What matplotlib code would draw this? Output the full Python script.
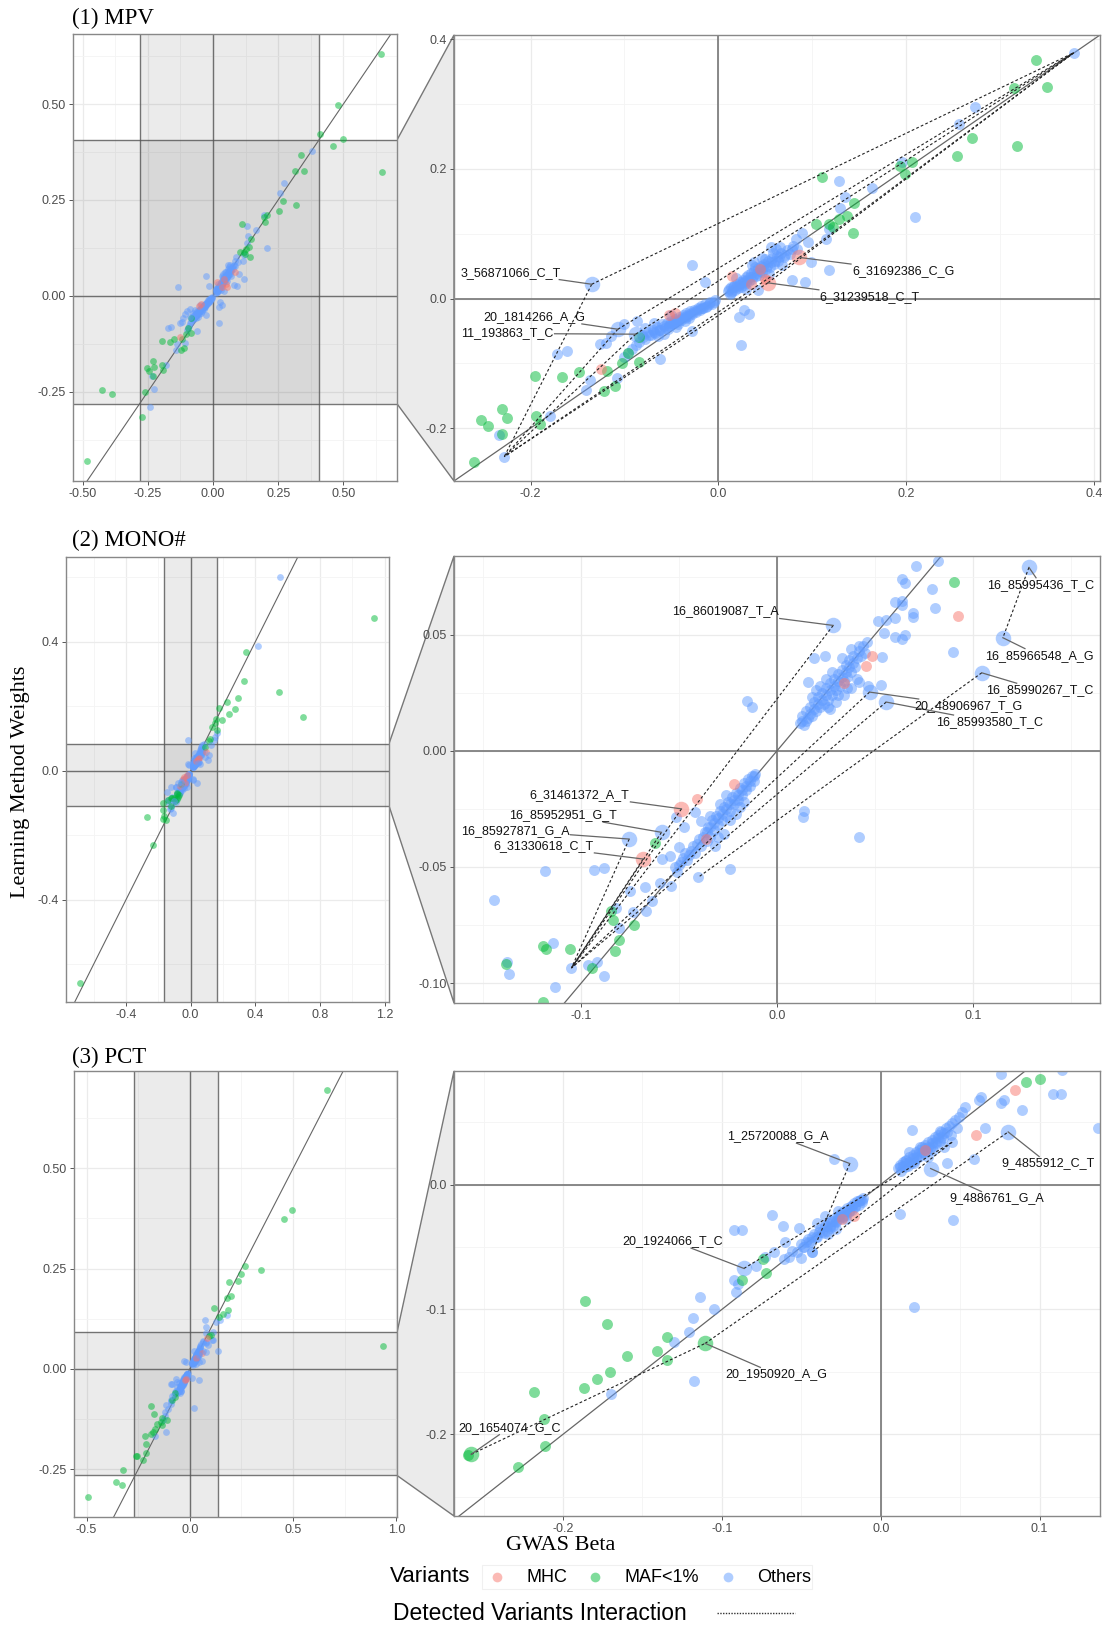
import matplotlib
matplotlib.use("Agg")
import numpy as np
import matplotlib.pyplot as plt
from matplotlib.lines import Line2D
from matplotlib.patches import Polygon, Rectangle

plt.rcParams["font.family"] = ["Liberation Sans", "DejaVu Sans"]
SERIF = ["Liberation Serif", "DejaVu Serif"]

W, H = 1106, 1627

colors = {"MHC": "#F8766D", "MAF<1%": "#00BA38", "Others": "#619CFF"}
groups = ["MHC", "MAF<1%", "Others"]

# ---------------- (1) MPV ----------------
mpv_others = [
    (0.273, 0.295), (0.256, 0.269), (0.196, 0.210), (0.164, 0.171), (0.129, 0.181),
    (0.135, 0.156), (0.130, 0.139), (0.209, 0.126), (0.118, 0.107), (0.115, 0.092),
    (0.089, 0.101), (0.083, 0.092), (0.095, 0.087), (0.056, 0.080), (0.066, 0.080),
    (0.038, 0.057), (0.099, 0.056), (0.118, 0.044), (0.079, 0.028), (0.092, 0.026),
    (0.042, 0.013), (-0.028, 0.051), (-0.014, 0.026), (0.027, -0.017), (0.033, -0.024),
    (0.022, -0.029), (0.024, -0.072), (-0.028, -0.050), (-0.087, -0.035), (-0.100, -0.039),
    (-0.078, -0.046), (-0.114, -0.058), (-0.126, -0.070), (-0.120, -0.068), (-0.172, -0.085),
    (-0.161, -0.081), (-0.179, -0.181), (-0.234, -0.210), (-0.062, -0.093), (-0.141, -0.141),
    (-0.137, -0.125), (-0.108, -0.122), (-0.241, -0.291),
    (0.010, 0.012), (0.012, 0.007), (0.013, 0.017), (0.015, 0.011), (0.017, 0.020),
    (0.018, 0.013), (0.020, 0.023), (0.021, 0.016), (0.023, 0.026), (0.024, 0.018),
    (0.026, 0.029), (0.027, 0.021), (0.029, 0.033), (0.030, 0.024), (0.032, 0.036),
    (0.033, 0.027), (0.035, 0.040), (0.036, 0.030), (0.038, 0.043), (0.040, 0.034),
    (0.042, 0.047), (0.043, 0.037), (0.045, 0.050), (0.047, 0.041), (0.049, 0.054),
    (0.051, 0.045), (0.053, 0.058), (0.055, 0.049), (0.057, 0.062), (0.059, 0.053),
    (0.062, 0.066), (0.064, 0.058), (0.067, 0.070), (0.070, 0.064), (0.073, 0.075),
    (0.076, 0.069), (0.080, 0.081), (0.084, 0.077), (0.047, 0.063), (0.036, 0.051),
    (0.061, 0.076), (0.019, 0.031), (0.068, 0.052), (0.029, 0.015), (0.054, 0.038),
    (0.011, 0.015), (0.014, 0.009), (0.016, 0.018), (0.019, 0.017), (0.022, 0.021),
    (0.025, 0.024), (0.028, 0.027), (0.031, 0.029), (0.034, 0.033), (0.037, 0.035),
    (0.041, 0.040), (0.044, 0.043), (0.048, 0.048), (0.052, 0.050), (0.056, 0.056),
    (0.060, 0.058), (0.065, 0.064), (0.071, 0.067), (0.078, 0.077), (0.039, 0.048),
    (0.058, 0.070), (0.050, 0.061),
    (-0.004, -0.003), (-0.007, -0.008), (-0.009, -0.005), (-0.012, -0.011), (-0.014, -0.009),
    (-0.016, -0.015), (-0.018, -0.012), (-0.020, -0.018), (-0.022, -0.015), (-0.024, -0.021),
    (-0.026, -0.018), (-0.028, -0.024), (-0.030, -0.020), (-0.032, -0.027), (-0.034, -0.023),
    (-0.036, -0.030), (-0.038, -0.026), (-0.040, -0.033), (-0.042, -0.029), (-0.044, -0.036),
    (-0.046, -0.031), (-0.048, -0.039), (-0.050, -0.034), (-0.052, -0.042), (-0.055, -0.037),
    (-0.057, -0.045), (-0.060, -0.040), (-0.062, -0.049), (-0.065, -0.044), (-0.067, -0.053),
    (-0.070, -0.048), (-0.072, -0.057), (-0.075, -0.052), (-0.078, -0.062), (-0.081, -0.057),
    (-0.084, -0.067), (-0.088, -0.072), (-0.092, -0.078), (-0.096, -0.084), (-0.100, -0.090),
    (-0.058, -0.055), (-0.045, -0.044), (-0.035, -0.035), (-0.068, -0.038), (-0.050, -0.025),
    (-0.005, -0.006), (-0.010, -0.008), (-0.013, -0.013), (-0.017, -0.014), (-0.021, -0.016),
    (-0.025, -0.020), (-0.029, -0.023), (-0.033, -0.025), (-0.037, -0.029), (-0.041, -0.031),
    (-0.045, -0.035), (-0.049, -0.037), (-0.053, -0.041), (-0.058, -0.043), (-0.063, -0.048),
    (-0.069, -0.051), (-0.074, -0.057), (-0.080, -0.060), (-0.054, -0.047), (-0.043, -0.039),
    (-0.031, -0.030), (-0.064, -0.058),
]
mpv_maf = [
    (0.338, 0.368), (0.315, 0.325), (0.350, 0.326), (0.270, 0.247), (0.318, 0.236),
    (0.254, 0.220), (0.194, 0.205), (0.206, 0.211), (0.199, 0.192), (0.110, 0.187),
    (0.145, 0.148), (0.137, 0.128), (0.128, 0.122), (0.118, 0.115), (0.104, 0.115),
    (0.143, 0.101), (0.122, 0.110), (-0.085, -0.059), (-0.096, -0.084), (-0.103, -0.100),
    (-0.085, -0.098), (-0.119, -0.112), (-0.148, -0.113), (-0.166, -0.121), (-0.195, -0.119),
    (-0.122, -0.142), (-0.110, -0.135), (-0.230, -0.171), (-0.253, -0.187), (-0.225, -0.185),
    (-0.245, -0.196), (-0.194, -0.181), (-0.190, -0.194), (-0.230, -0.209), (-0.260, -0.252),
    (0.645, 0.630), (0.478, 0.497), (0.410, 0.422), (0.500, 0.409), (0.459, 0.392),
    (0.649, 0.323), (-0.427, -0.246), (-0.386, -0.257), (-0.483, -0.431), (-0.272, -0.317),
]
mpv_mhc = [
    (0.015, 0.035), (0.044, 0.045), (-0.052, -0.026), (-0.046, -0.022), (-0.125, -0.108),
    (0.035, 0.022), (0.050, 0.030),
]
mpv_det_names = ["3_56871066_C_T", "6_31692386_C_G", "6_31239518_C_T",
                 "20_1814266_A_G", "11_193863_T_C", "", ""]
mpv_det_beta = [-0.1348, 0.0863, 0.0528, -0.107, -0.088, 0.3784, -0.228]
mpv_det_weight = [0.022, 0.0634, 0.0242, -0.0474, -0.055, 0.379, -0.244]
mpv_det_group = ["Others", "MHC", "MHC", "Others", "Others", "Others", "Others"]
mpv_links = [(0, 5), (0, 6), (1, 5), (1, 6), (2, 5), (2, 6), (3, 5), (3, 6), (4, 5), (4, 6)]
mpv_label_pos = [(-0.168, 0.040, "right"), (0.1424, 0.0428, "left"), (0.108, 0.0026, "left"),
                 (-0.1415, -0.0284, "right"), (-0.1755, -0.054, "right")]

# ---------------- (2) MONO# ----------------
mono_others = [
    (0.071, 0.0794), (0.082, 0.0816), (0.0641, 0.0739), (0.0653, 0.0722), (0.0793, 0.0696),
    (0.0605, 0.0643), (0.0641, 0.0646), (0.0637, 0.0628), (0.0694, 0.0595), (0.0694, 0.0578),
    (0.0805, 0.0614), (0.0515, 0.0559), (0.0556, 0.0563), (0.0602, 0.0571), (0.0545, 0.0509),
    (0.0602, 0.0491), (0.0655, 0.0499), (0.0637, 0.048), (0.0897, 0.0427), (0.0538, 0.0405),
    (0.0418, 0.0451), (0.0379, 0.0437), (0.0246, 0.0408), (0.0189, 0.0398), (0.0159, 0.0297),
    (-0.0152, 0.0213), (-0.0126, 0.0189), (0.0418, 0.0297), (0.0464, 0.028), (0.0529, 0.0282),
    (0.0131, -0.0287), (0.0136, -0.0261), (0.0418, -0.0373), (-0.1186, -0.0517), (-0.0933, -0.0513),
    (-0.0885, -0.0503), (-0.1448, -0.0643), (-0.137, -0.096), (-0.1145, -0.0827), (-0.1133, -0.1019),
    (-0.0885, -0.0971), (-0.0922, -0.0909), (-0.0966, -0.0921), (-0.0823, -0.0676), (-0.0738, -0.0695),
    (-0.0667, -0.069), (-0.075, -0.0604), (-0.0674, -0.0585), (-0.0807, -0.0762), (-0.0639, -0.0647),
    (-0.06, -0.0571), (-0.054, -0.0582), (-0.0241, -0.0507), (-0.0547, -0.0452),
    (-0.0501, -0.0416), (-0.0586, -0.0467), (-0.0474, -0.033), (-0.0517, -0.0287), (-0.0421, -0.0265),
    (-0.0386, -0.0301), (-0.0317, -0.0409), (-0.0271, -0.0359),
    (0.012, 0.012), (0.013, 0.015), (0.014, 0.011), (0.015, 0.017), (0.016, 0.014),
    (0.017, 0.019), (0.018, 0.015), (0.019, 0.021), (0.020, 0.017), (0.021, 0.023),
    (0.022, 0.019), (0.023, 0.025), (0.024, 0.020), (0.025, 0.027), (0.026, 0.022),
    (0.027, 0.029), (0.028, 0.024), (0.029, 0.031), (0.030, 0.026), (0.031, 0.033),
    (0.032, 0.028), (0.033, 0.035), (0.034, 0.030), (0.035, 0.037), (0.036, 0.032),
    (0.037, 0.039), (0.038, 0.034), (0.039, 0.041), (0.040, 0.036), (0.042, 0.043),
    (0.044, 0.045), (0.046, 0.047), (0.022, 0.028), (0.027, 0.018), (0.031, 0.024),
    (0.036, 0.027), (0.018, 0.023), (0.041, 0.031), (0.025, 0.031), (0.033, 0.040),
    (0.013, 0.013), (0.015, 0.013), (0.017, 0.016), (0.019, 0.018), (0.021, 0.020),
    (0.023, 0.022), (0.025, 0.024), (0.027, 0.026), (0.029, 0.028), (0.031, 0.030),
    (0.033, 0.032), (0.035, 0.034), (0.037, 0.036), (0.039, 0.038), (0.041, 0.040),
    (0.043, 0.041), (0.026, 0.019), (0.030, 0.021), (0.034, 0.024), (0.038, 0.027),
    (0.020, 0.026), (0.028, 0.034), (0.045, 0.042),
    (-0.011, -0.010), (-0.012, -0.013), (-0.013, -0.011), (-0.014, -0.015), (-0.015, -0.012),
    (-0.016, -0.017), (-0.017, -0.014), (-0.018, -0.019), (-0.019, -0.016), (-0.020, -0.021),
    (-0.021, -0.018), (-0.022, -0.023), (-0.023, -0.020), (-0.024, -0.026), (-0.025, -0.022),
    (-0.026, -0.028), (-0.027, -0.024), (-0.028, -0.030), (-0.029, -0.026), (-0.030, -0.032),
    (-0.031, -0.028), (-0.032, -0.034), (-0.033, -0.030), (-0.034, -0.037), (-0.035, -0.033),
    (-0.036, -0.039), (-0.037, -0.035), (-0.039, -0.041), (-0.040, -0.038), (-0.042, -0.044),
    (-0.044, -0.043), (-0.046, -0.047), (-0.048, -0.046), (-0.050, -0.049), (-0.052, -0.050),
    (-0.021, -0.027), (-0.026, -0.019), (-0.030, -0.037), (-0.034, -0.028), (-0.017, -0.022),
    (-0.012, -0.011), (-0.014, -0.013), (-0.016, -0.015), (-0.018, -0.017), (-0.020, -0.019),
    (-0.022, -0.021), (-0.024, -0.023), (-0.026, -0.025), (-0.028, -0.027), (-0.030, -0.029),
    (-0.032, -0.031), (-0.034, -0.033), (-0.036, -0.035), (-0.038, -0.037), (-0.041, -0.040),
    (-0.043, -0.041), (-0.045, -0.045), (-0.047, -0.044), (-0.049, -0.048), (-0.051, -0.052),
    (-0.024, -0.030), (-0.029, -0.023), (-0.019, -0.024),
    (0.5526, 0.6016), (0.4144, 0.3876), (0.150, 0.105), (0.146, 0.097), (0.161, 0.116),
    (-0.0144, 0.095), (-0.138, -0.091), (-0.120, -0.115), (-0.107, -0.132), (-0.125, -0.120),
]
mono_maf = [
    (0.0906, 0.0725), (-0.0623, -0.0399), (-0.0846, -0.069), (-0.0839, -0.0729), (-0.0731, -0.0751),
    (-0.0807, -0.0816), (-0.0828, -0.0863), (-0.1195, -0.0841), (-0.118, -0.0852), (-0.1057, -0.0853),
    (-0.1382, -0.0916), (-0.0943, -0.0935), (-0.1195, -0.1082),
    (1.136, 0.4744), (0.340, 0.369), (0.330, 0.277), (0.548, 0.243), (0.693, 0.1674),
    (0.295, 0.2243), (0.2227, 0.2119), (0.274, 0.191), (0.237, 0.1757), (0.175, 0.196),
    (0.196, 0.157), (0.157, 0.160), (0.150, 0.147), (0.130, 0.136), (0.161, 0.126),
    (0.120, 0.100), (0.115, 0.093), (-0.272, -0.1447), (-0.233, -0.230), (-0.685, -0.657),
    (-0.169, -0.101), (-0.173, -0.122), (-0.169, -0.148), (-0.153, -0.153), (-0.165, -0.140),
]
mono_mhc = [
    (0.0924, 0.0581), (0.0487, 0.0409), (0.0457, 0.0365), (0.0343, 0.029), (-0.0218, -0.0143),
    (-0.041, -0.0207), (-0.0363, -0.038),
]
mono_det_names = ["16_85995436_T_C", "16_86019087_T_A", "16_85966548_A_G", "16_85990267_T_C",
                  "20_48906967_T_G", "16_85993580_T_C", "6_31461372_A_T", "16_85952951_G_T",
                  "16_85927871_G_A", "6_31330618_C_T", "", ""]
mono_det_beta = [0.1287, 0.0287, 0.1154, 0.1046, 0.0473, 0.0558, -0.0488, -0.059, -0.0755, -0.0684,
                 -0.105, -0.0403]
mono_det_weight = [0.079, 0.054, 0.0487, 0.0336, 0.0253, 0.021, -0.025, -0.0351, -0.038, -0.0466,
                   -0.0935, -0.0545]
mono_det_group = ["Others", "Others", "Others", "Others", "Others", "Others", "MHC", "Others",
                  "Others", "MHC", "Others", "Others"]
mono_links = [(0, 2), (3, 11), (1, 10), (4, 10), (5, 10), (6, 10), (7, 10), (8, 10), (9, 10)]
mono_label_pos = [(0.1074, 0.0715, "left"), (0.0011, 0.060, "right"), (0.1062, 0.041, "left"),
                  (0.107, 0.0261, "left"), (0.0701, 0.0193, "left"), (0.0814, 0.0124, "left"),
                  (-0.0754, -0.019, "right"), (-0.0818, -0.0277, "right"), (-0.106, -0.0344, "right"),
                  (-0.0938, -0.0412, "right")]

# ---------------- (3) PCT ----------------
pct_others = [
    (0.0759, 0.0888), (0.1142, 0.092), (0.1085, 0.0723), (0.1136, 0.0723), (0.1368, 0.0453),
    (0.0887, 0.060), (0.0759, 0.0656), (0.0773, 0.068), (0.0618, 0.0675), (0.0633, 0.0701),
    (0.0654, 0.0453), (0.0584, 0.0208), (0.0533, 0.0621), (0.0419, 0.0173), (0.0198, 0.044),
    (0.0207, -0.0979), (0.0453, -0.0285), (0.0122, -0.0235), (-0.0297, 0.0208), (-0.0686, -0.0245),
    (-0.0615, -0.0331), (-0.0921, -0.0365), (-0.0875, -0.0365), (-0.0926, -0.0765), (-0.0898, -0.080),
    (-0.0912, -0.0864), (-0.1139, -0.0904), (-0.1048, -0.0997), (-0.1181, -0.1072), (-0.121, -0.1179),
    (-0.1303, -0.1264), (-0.1173, -0.1571), (-0.170, -0.168), (-0.0785, -0.0651), (-0.0728, -0.0579),
    (-0.0671, -0.0539), (-0.060, -0.0459), (-0.0501, -0.0592), (-0.0431, -0.0539), (-0.0516, -0.0352),
    (0.011, 0.013), (0.012, 0.016), (0.013, 0.011), (0.014, 0.018), (0.015, 0.014),
    (0.016, 0.020), (0.017, 0.015), (0.018, 0.022), (0.019, 0.017), (0.020, 0.024),
    (0.021, 0.019), (0.022, 0.026), (0.023, 0.021), (0.024, 0.028), (0.025, 0.023),
    (0.026, 0.030), (0.027, 0.025), (0.028, 0.032), (0.029, 0.027), (0.030, 0.034),
    (0.031, 0.029), (0.032, 0.036), (0.033, 0.031), (0.034, 0.038), (0.035, 0.033),
    (0.036, 0.040), (0.037, 0.035), (0.038, 0.042), (0.039, 0.037), (0.041, 0.045),
    (0.043, 0.047), (0.045, 0.049), (0.047, 0.052), (0.049, 0.054), (0.051, 0.058),
    (0.030, 0.022), (0.040, 0.030), (0.018, 0.026), (0.044, 0.040), (0.048, 0.045),
    (0.012, 0.014), (0.014, 0.015), (0.016, 0.017), (0.018, 0.018), (0.020, 0.021),
    (0.022, 0.022), (0.024, 0.025), (0.026, 0.026), (0.028, 0.029), (0.030, 0.030),
    (0.032, 0.033), (0.034, 0.034), (0.036, 0.037), (0.038, 0.038), (0.040, 0.041),
    (0.042, 0.042), (0.015, 0.019), (0.021, 0.017), (0.025, 0.030), (0.033, 0.028),
    (0.037, 0.043),
    (-0.011, -0.011), (-0.012, -0.014), (-0.013, -0.012), (-0.014, -0.016), (-0.015, -0.013),
    (-0.016, -0.018), (-0.017, -0.015), (-0.018, -0.020), (-0.019, -0.017), (-0.020, -0.022),
    (-0.021, -0.019), (-0.022, -0.024), (-0.023, -0.021), (-0.024, -0.026), (-0.025, -0.023),
    (-0.026, -0.028), (-0.027, -0.025), (-0.028, -0.030), (-0.029, -0.027), (-0.030, -0.033),
    (-0.031, -0.029), (-0.032, -0.035), (-0.033, -0.031), (-0.034, -0.037), (-0.035, -0.033),
    (-0.036, -0.039), (-0.038, -0.036), (-0.040, -0.042), (-0.042, -0.040), (-0.044, -0.046),
    (-0.046, -0.044), (-0.048, -0.050), (-0.050, -0.048), (-0.053, -0.054), (-0.056, -0.053),
    (-0.058, -0.058), (-0.061, -0.060), (-0.035, -0.025), (-0.028, -0.036), (-0.040, -0.031),
    (-0.012, -0.012), (-0.014, -0.013), (-0.016, -0.017), (-0.018, -0.017), (-0.020, -0.021),
    (-0.022, -0.021), (-0.024, -0.025), (-0.026, -0.025), (-0.028, -0.029), (-0.030, -0.029),
    (-0.032, -0.033), (-0.034, -0.033), (-0.037, -0.038), (-0.039, -0.038), (-0.041, -0.042),
    (-0.043, -0.042), (-0.045, -0.046), (-0.047, -0.046), (-0.049, -0.050), (-0.022, -0.028),
    (-0.027, -0.021), (-0.033, -0.040),
    (0.074, 0.123), (0.180, 0.134), (0.147, 0.123), (0.128, 0.1175), (0.079, 0.105),
]
pct_maf = [
    (0.0915, 0.0821), (0.100, 0.0843), (-0.0742, -0.060), (-0.0875, -0.0765), (-0.072, -0.0707),
    (-0.1861, -0.0931), (-0.1722, -0.1115), (-0.1343, -0.1219), (-0.1595, -0.1371), (-0.1411, -0.1333),
    (-0.1343, -0.1405), (-0.1705, -0.1501), (-0.1785, -0.156), (-0.187, -0.1627), (-0.2181, -0.1664),
    (-0.2122, -0.188), (-0.2116, -0.2091), (-0.2286, -0.2259),
    (0.665, 0.695), (0.495, 0.397), (0.455, 0.373), (0.934, 0.0567), (0.345, 0.246),
    (0.269, 0.256), (0.248, 0.2375), (0.233, 0.218), (0.188, 0.216), (0.199, 0.183),
    (0.180, 0.1775), (0.184, 0.148), (0.115, 0.153), (0.159, 0.137), (0.139, 0.130),
    (-0.322, -0.251), (-0.356, -0.283), (-0.330, -0.289), (-0.495, -0.320), (-0.260, -0.2167),
]
pct_mhc = [
    (0.0844, 0.076), (0.060, 0.040), (0.028, 0.0274), (-0.0171, -0.0254), (-0.0244, -0.0272),
]
pct_det_names = ["1_25720088_G_A", "9_4855912_C_T", "9_4886761_G_A", "20_1924066_T_C",
                 "20_1950920_A_G", "20_1654074_G_C", "", ""]
pct_det_beta = [-0.0195, 0.0802, 0.0314, -0.0861, -0.1105, -0.2578, -0.043, 0.045]
pct_det_weight = [0.0168, 0.0421, 0.0128, -0.0672, -0.1272, -0.216, -0.054, 0.034]
pct_det_group = ["Others", "Others", "Others", "Others", "MAF<1%", "MAF<1%", "Others", "Others"]
pct_links = [(5, 4), (4, 1), (0, 6), (6, 7), (3, 7)]
pct_label_pos = [(-0.0326, 0.0387, "right"), (0.0759, 0.0168, "left"), (0.0433, -0.0112, "left"),
                 (-0.0992, -0.0453, "right"), (-0.0977, -0.152, "left"), (-0.266, -0.1947, "left")]

fig = plt.figure(figsize=(W / 100, H / 100), dpi=100)


def box(x0, y0, x1, y1):
    return [x0 / W, 1 - y1 / H, (x1 - x0) / W, (y1 - y0) / H]


def style(ax, xlim, ylim, xt, xl, yt, yl):
    ax.set_xticks(xt)
    ax.set_xticklabels(xl)
    ax.set_yticks(yt)
    ax.set_yticklabels(yl)
    sx, sy = xt[1] - xt[0], yt[1] - yt[0]
    ax.set_xticks(np.arange(xt[0] - 3 * sx / 2, xt[-1] + 2 * sx, sx), minor=True)
    ax.set_yticks(np.arange(yt[0] - 3 * sy / 2, yt[-1] + 2 * sy, sy), minor=True)
    # limits after the ticks, otherwise set_ticks widens the view
    ax.set_xlim(xlim)
    ax.set_ylim(ylim)
    ax.grid(which="major", color="#EBEBEB", lw=0.9)
    ax.grid(which="minor", color="#F4F4F4", lw=0.6)
    ax.set_axisbelow(True)
    for s in ax.spines.values():
        s.set_color("#888888")
        s.set_linewidth(1.0)
    ax.tick_params(which="major", length=3, width=0.7, color="#555555",
                   labelsize=9, labelcolor="#4D4D4D", pad=2)
    ax.tick_params(which="minor", length=0)


def scatter_groups(ax, data, size):
    for g in ["Others", "MAF<1%", "MHC"]:
        pts = np.array(data[g])
        ax.scatter(pts[:, 0], pts[:, 1], s=size, color=colors[g], alpha=0.5,
                   lw=0, zorder=2)


def draw_trait(axL, axR, data, det, links, label_pos, zx, zy):
    names, beta, weight, grp = det
    beta = np.array(beta)
    weight = np.array(weight)

    # overview panel with the zoomed region shaded
    axL.axvspan(zx[0], zx[1], color="black", alpha=0.08, lw=0, zorder=1)
    axL.axhspan(zy[0], zy[1], color="black", alpha=0.08, lw=0, zorder=1)
    for v in (zx[0], zx[1], 0):
        axL.axvline(v, color="#555555", lw=1.0, alpha=0.8, zorder=1.2)
    for v in (zy[0], zy[1], 0):
        axL.axhline(v, color="#555555", lw=1.0, alpha=0.8, zorder=1.2)
    axL.axline((0, 0), slope=1, color="#666666", lw=0.8, zorder=1.5)
    scatter_groups(axL, data, 24)
    for g in groups:
        m = np.array(grp) == g
        if m.any():
            axL.scatter(beta[m], weight[m], s=24, color=colors[g], alpha=0.5, lw=0, zorder=2)

    # zoomed panel
    axR.axvline(0, color="#7F7F7F", lw=1.3, zorder=1.2)
    axR.axhline(0, color="#7F7F7F", lw=1.3, zorder=1.2)
    axR.axline((0, 0), slope=1, color="#666666", lw=0.9, zorder=1.5)
    scatter_groups(axR, data, 62)
    for a, b in links:
        axR.plot([beta[a], beta[b]], [weight[a], weight[b]], color="#222222", lw=0.8,
                 ls=(0, (2.5, 2)), zorder=3)
    for i, n in enumerate(names):
        axR.scatter(beta[i], weight[i], s=125 if n else 62, color=colors[grp[i]],
                    alpha=0.5, lw=0, zorder=2.5)
    texts = []
    for i, (lx, ly, ha) in enumerate(label_pos):
        t = axR.text(lx, ly, names[i], ha=ha, va="center", fontsize=9, color="#111111",
                     zorder=5)
        texts.append((t, beta[i], weight[i]))
    return texts


def add_leaders(axR, texts):
    r = fig.canvas.get_renderer()
    inv = axR.transData.inverted()
    for t, px, py in texts:
        bb = t.get_window_extent(r)
        cx, cy = (bb.x0 + bb.x1) / 2, (bb.y0 + bb.y1) / 2
        tx, ty = axR.transData.transform((px, py))
        dx, dy = tx - cx, ty - cy
        hw, hh = bb.width / 2 + 1, bb.height / 2 + 1
        k = min(hw / abs(dx) if dx else np.inf, hh / abs(dy) if dy else np.inf)
        sx, sy = cx + dx * k, cy + dy * k
        (ax0, ay0) = inv.transform((sx, sy))
        axR.plot([ax0, px], [ay0, py], color="#666666", lw=0.9, zorder=4)


def connector(axL, axR, zy):
    to_fig = fig.transFigure.inverted()
    x_left = axL.get_position().x1
    y_top = to_fig.transform(axL.transData.transform((0, zy[1])))[1]
    y_bot = to_fig.transform(axL.transData.transform((0, zy[0])))[1]
    pr = axR.get_position()
    poly = Polygon([(x_left, y_top), (pr.x0, pr.y1), (pr.x0, pr.y0), (x_left, y_bot)],
                   closed=True, transform=fig.transFigure, facecolor="#EBEBEB",
                   edgecolor="#777777", lw=1.0, zorder=-1)
    fig.add_artist(poly)


def as_groups(mhc, maf, oth):
    return {"MHC": mhc, "MAF<1%": maf, "Others": oth}


# axes placement
axL1 = fig.add_axes(box(73, 34, 397, 481))
axR1 = fig.add_axes(box(454, 35, 1100, 481))
axL2 = fig.add_axes(box(66, 557, 389, 1002))
axR2 = fig.add_axes(box(454, 556, 1100, 1003))
axL3 = fig.add_axes(box(74, 1071, 397, 1517))
axR3 = fig.add_axes(box(454, 1071, 1100, 1516))

zoom1 = ((-0.2815, 0.4065), (-0.2815, 0.4065))
zoom2 = ((-0.165, 0.165), (-0.1086, 0.0839))
zoom3 = ((-0.2686, 0.138), (-0.2654, 0.0909))

t1 = draw_trait(axL1, axR1, as_groups(mpv_mhc, mpv_maf, mpv_others),
                (mpv_det_names, mpv_det_beta, mpv_det_weight, mpv_det_group),
                mpv_links, mpv_label_pos, *zoom1)
t2 = draw_trait(axL2, axR2, as_groups(mono_mhc, mono_maf, mono_others),
                (mono_det_names, mono_det_beta, mono_det_weight, mono_det_group),
                mono_links, mono_label_pos, *zoom2)
t3 = draw_trait(axL3, axR3, as_groups(pct_mhc, pct_maf, pct_others),
                (pct_det_names, pct_det_beta, pct_det_weight, pct_det_group),
                pct_links, pct_label_pos, *zoom3)

style(axL1, (-0.537, 0.706), (-0.483, 0.683), [-0.5, -0.25, 0, 0.25, 0.5],
      ["-0.50", "-0.25", "0.00", "0.25", "0.50"], [-0.25, 0, 0.25, 0.5],
      ["-0.25", "0.00", "0.25", "0.50"])
style(axR1, zoom1[0], zoom1[1], [-0.2, 0, 0.2, 0.4], ["-0.2", "0.0", "0.2", "0.4"],
      [-0.2, 0, 0.2, 0.4], ["-0.2", "0.0", "0.2", "0.4"])
style(axL2, (-0.771, 1.227), (-0.717, 0.663), [-0.4, 0, 0.4, 0.8, 1.2],
      ["-0.4", "0.0", "0.4", "0.8", "1.2"], [-0.4, 0, 0.4], ["-0.4", "0.0", "0.4"])
style(axR2, zoom2[0], zoom2[1], [-0.1, 0, 0.1], ["-0.1", "0.0", "0.1"],
      [-0.1, -0.05, 0, 0.05], ["-0.10", "-0.05", "0.00", "0.05"])
style(axL3, (-0.561, 1.003), (-0.369, 0.7425), [-0.5, 0, 0.5, 1.0],
      ["-0.5", "0.0", "0.5", "1.0"], [-0.25, 0, 0.25, 0.5], ["-0.25", "0.00", "0.25", "0.50"])
style(axR3, zoom3[0], zoom3[1], [-0.2, -0.1, 0, 0.1], ["-0.2", "-0.1", "0.0", "0.1"],
      [-0.2, -0.1, 0], ["-0.2", "-0.1", "0.0"])

connector(axL1, axR1, zoom1[1])
connector(axL2, axR2, zoom2[1])
connector(axL3, axR3, zoom3[1])

fig.canvas.draw()
add_leaders(axR1, t1)
add_leaders(axR2, t2)
add_leaders(axR3, t3)

# titles and axis titles
for label, y in [("(1) MPV", 18), ("(2) MONO#", 540), ("(3) PCT", 1057)]:
    fig.text(72 / W, 1 - y / H, label, family=SERIF, fontsize=16.5, ha="left", va="center")
fig.text(21 / W, 1 - 782 / H, "Learning Method Weights", family=SERIF, fontsize=16,
         rotation=90, ha="center", va="center")
fig.text(561 / W, 1 - 1546 / H, "GWAS Beta", family=SERIF, fontsize=16, ha="center", va="center")

# legend
fig.add_artist(Rectangle((482 / W, 1 - 1589 / H), 330 / W, 24 / H, transform=fig.transFigure,
                         facecolor="none", edgecolor="#F0F0F0", lw=0.8))
fig.text(390 / W, 1 - 1577 / H, "Variants", fontsize=16, ha="left", va="center")
for g, kx, tx in [("MHC", 497, 526), ("MAF<1%", 595, 624), ("Others", 728, 757)]:
    fig.add_artist(Line2D([kx / W], [1 - 1577 / H], transform=fig.transFigure, marker="o",
                          ls="", ms=7, color=colors[g], alpha=0.5, mew=0))
    fig.text(tx / W, 1 - 1577 / H, g, fontsize=13, ha="left", va="center")
fig.text(393 / W, 1 - 1613 / H, "Detected Variants Interaction", fontsize=16.5,
         ha="left", va="center")
fig.add_artist(Line2D([717 / W, 795 / W], [1 - 1613 / H, 1 - 1613 / H], transform=fig.transFigure,
                      color="#333333", lw=1.0, ls=(0, (1, 1))))

fig.savefig("out.png", dpi=100)
